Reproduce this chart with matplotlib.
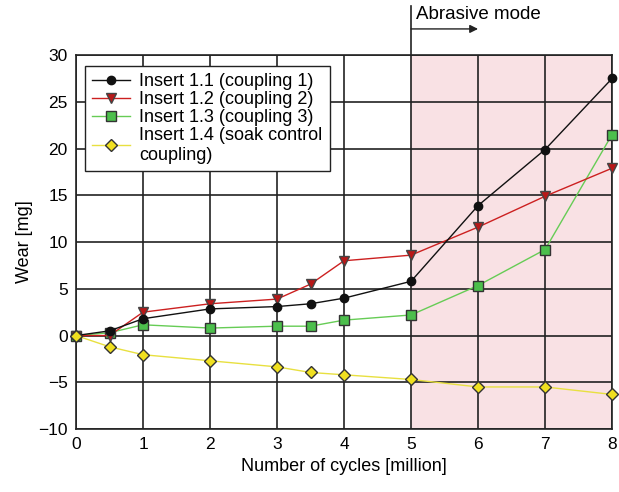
import numpy as np
import matplotlib.pyplot as plt

plt.rcParams['font.family'] = ['Liberation Sans', 'DejaVu Sans']

# cycles [million]
cycles = [0, 0.5, 1, 2, 3, 3.5, 4, 5, 6, 7, 8]

# wear [mg] for each insert
insert_11 = [0, 0.5, 1.8, 2.85, 3.1, 3.4, 4.0, 5.8, 13.9, 19.9, 27.5]
insert_12 = [0, 0.0, 2.5, 3.4, 3.9, 5.5, 8.0, 8.6, 11.6, 14.9, 17.9]
insert_13 = [0, 0.3, 1.15, 0.8, 1.0, 1.0, 1.65, 2.2, 5.35, 9.2, 21.5]
insert_14 = [0, -1.2, -2.05, -2.7, -3.35, -3.95, -4.2, -4.7, -5.5, -5.5, -6.3]

labels = ["Insert 1.1 (coupling 1)", "Insert 1.2 (coupling 2)",
          "Insert 1.3 (coupling 3)", "Insert 1.4 (soak control\ncoupling)"]

fig = plt.figure(figsize=(6.19, 4.92), dpi=100)
ax = fig.add_axes([0.1228, 0.128, 0.866, 0.76])

# abrasive mode region
ax.axvspan(5, 8, color='#f9e1e4', zorder=0)

ax.set_xlim(0, 8)
ax.set_ylim(-10, 30)
ax.set_xticks(np.arange(0, 9, 1))
ax.set_yticks(np.arange(-10, 31, 5))
ax.grid(True, color='#222222', linewidth=1.2, zorder=1)
ax.set_axisbelow(True)

ax.plot(cycles, insert_11, '-o', color='#111111', lw=1.0, ms=6,
        mfc='#111111', mec='#111111', label=labels[0], zorder=5, clip_on=False)
ax.plot(cycles, insert_12, '-v', color='#cc2020', lw=1.0, ms=7,
        mfc='#b81818', mec='#444444', label=labels[1], zorder=4, clip_on=False)
ax.plot(cycles, insert_13, '-s', color='#66cc55', lw=1.0, ms=6.5,
        mfc='#4cbf4c', mec='#333333', label=labels[2], zorder=3, clip_on=False)
ax.plot(cycles, insert_14, '-D', color='#e8e040', lw=1.0, ms=6,
        mfc='#f0e020', mec='#333333', label=labels[3], zorder=6, clip_on=False)

for s in ax.spines.values():
    s.set_linewidth(1.2)
    s.set_color('#222222')

ax.tick_params(labelsize=12.5, length=0, pad=6)
ax.set_xlabel("Number of cycles [million]", fontsize=13)
ax.set_ylabel("Wear [mg]", fontsize=13)

# abrasive mode marker above the axes
ax.plot([5, 5], [30, 35.3], color='#222222', lw=1.2, clip_on=False)
ax.annotate("", xy=(6.0, 32.8), xytext=(5, 32.8),
            arrowprops=dict(arrowstyle='-|>', color='#222222', lw=1.0,
                            mutation_scale=12, shrinkA=0, shrinkB=0),
            annotation_clip=False)
ax.text(5.07, 34.3, "Abrasive mode", fontsize=13.5, va='center', ha='left')

leg = ax.legend(loc='upper left', fontsize=13, frameon=True, fancybox=False,
                edgecolor='#222222', framealpha=1, handlelength=2.1,
                labelspacing=0.05, borderpad=0.4, handletextpad=0.5,
                bbox_to_anchor=(0.0, 0.995))
leg.get_frame().set_linewidth(1.0)
leg.set_zorder(10)

fig.savefig("out.png", dpi=100)
